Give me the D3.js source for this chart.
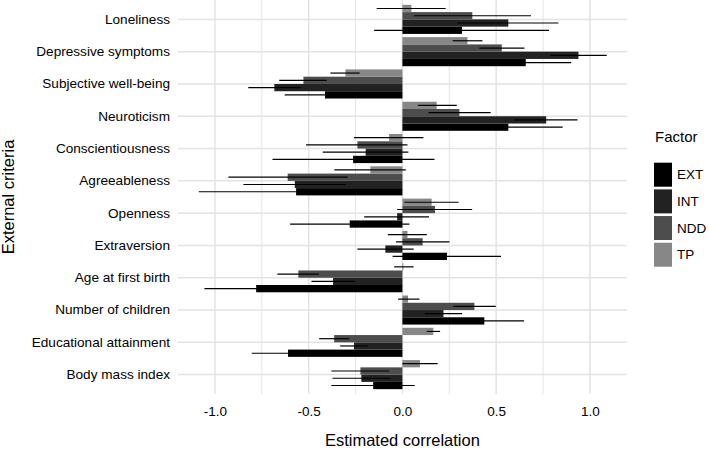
<!DOCTYPE html>
<html>
<head>
<meta charset="utf-8">
<script src="https://cdn.jsdelivr.net/npm/d3@7"></script>
<style>
  html, body { margin: 0; padding: 0; background: #fff; }
  svg { display: block; font-family: "Liberation Sans", Arial, Helvetica, sans-serif; }
</style>
</head>
<body>
<svg id="chart" width="709" height="449"></svg>
<script>
// ---- Data ----
const categories = ["Loneliness", "Depressive symptoms", "Subjective well-being", "Neuroticism",
  "Conscientiousness", "Agreeableness", "Openness", "Extraversion", "Age at first birth",
  "Number of children", "Educational attainment", "Body mass index"];
const factors = ["EXT", "INT", "NDD", "TP"];
const factorColors = ["#000000", "#222222", "#4d4d4d", "#878787"];

const estEXT = [0.318, 0.658, -0.413, 0.565, -0.263, -0.567, -0.281, 0.238, -0.780, 0.437, -0.610, -0.156];
const loEXT  = [-0.151, 0.416, -0.628, 0.275, -0.693, -1.086, -0.599, -0.052, -1.056, 0.225, -0.804, -0.379];
const hiEXT  = [0.782, 0.900, -0.198, 0.855, 0.171, -0.048, 0.037, 0.526, -0.504, 0.649, -0.416, 0.066];

const estINT = [0.565, 0.939, -0.683, 0.767, -0.196, -0.574, -0.028, -0.091, -0.370, 0.219, -0.258, -0.219];
const loINT  = [0.293, 0.788, -0.822, 0.598, -0.425, -0.848, -0.204, -0.240, -0.485, 0.121, -0.332, -0.373];
const hiINT  = [0.832, 1.090, -0.543, 0.934, 0.032, -0.302, 0.142, 0.060, -0.252, 0.318, -0.183, -0.064];

const estNDD = [0.373, 0.530, -0.528, 0.304, -0.240, -0.612, 0.174, 0.108, -0.555, 0.384, -0.364, -0.224];
const loNDD  = [0.062, 0.411, -0.657, 0.139, -0.514, -0.928, -0.028, -0.034, -0.667, 0.272, -0.444, -0.379];
const hiNDD  = [0.686, 0.651, -0.404, 0.471, 0.027, -0.292, 0.372, 0.251, -0.446, 0.498, -0.284, -0.071];

const estTP  = [0.048, 0.347, -0.304, 0.183, -0.071, -0.171, 0.156, 0.027, 0.005, 0.030, 0.165, 0.094];
const loTP   = [-0.137, 0.268, -0.384, 0.082, -0.258, -0.363, 0.011, -0.078, -0.044, -0.023, 0.130, 0.000];
const hiTP   = [0.231, 0.427, -0.228, 0.290, 0.112, 0.018, 0.300, 0.130, 0.060, 0.091, 0.201, 0.188];

const xTicks = [-1.0, -0.5, 0.0, 0.5, 1.0];
const xMinorTicks = [-0.75, -0.25, 0.25, 0.75];

const seriesData = {
  EXT: { est: estEXT, lo: loEXT, hi: hiEXT },
  INT: { est: estINT, lo: loINT, hi: hiINT },
  NDD: { est: estNDD, lo: loNDD, hi: hiNDD },
  TP:  { est: estTP,  lo: loTP,  hi: hiTP }
};

const rows = [];
categories.forEach((c, i) => {
  factors.forEach(f => {
    rows.push({ cat: c, factor: f, est: seriesData[f].est[i], lo: seriesData[f].lo[i], hi: seriesData[f].hi[i] });
  });
});

// ---- Layout ----
const svg = d3.select("#chart");
const panel = { left: 178, right: 627, top: 0, bottom: 394 };

const x = d3.scaleLinear().domain([-1.197, 1.198]).range([panel.left, panel.right]);
const y = d3.scaleBand().domain(categories).range([panel.top, panel.bottom])
  .paddingInner(0.1).paddingOuter(0.15);
const ySub = d3.scaleBand().domain(["TP", "NDD", "INT", "EXT"]).range([0, y.bandwidth()]);
const color = d3.scaleOrdinal().domain(factors).range(factorColors);

// ---- Grid ----
const grid = svg.append("g");
grid.selectAll("line.minor").data(xMinorTicks).enter().append("line")
  .attr("x1", d => x(d)).attr("x2", d => x(d))
  .attr("y1", panel.top).attr("y2", panel.bottom)
  .attr("stroke", "#e6e6e6").attr("stroke-width", 1.1);
grid.selectAll("line.majorx").data(xTicks).enter().append("line")
  .attr("x1", d => x(d)).attr("x2", d => x(d))
  .attr("y1", panel.top).attr("y2", panel.bottom)
  .attr("stroke", "#e3e3e3").attr("stroke-width", 1.5);
grid.selectAll("line.majory").data(categories).enter().append("line")
  .attr("x1", panel.left).attr("x2", panel.right)
  .attr("y1", d => y(d) + y.bandwidth() / 2).attr("y2", d => y(d) + y.bandwidth() / 2)
  .attr("stroke", "#e3e3e3").attr("stroke-width", 1.5);

// ---- Bars ----
svg.append("g").selectAll("rect").data(rows).enter().append("rect")
  .attr("x", d => Math.min(x(0), x(d.est)))
  .attr("width", d => Math.abs(x(d.est) - x(0)))
  .attr("y", d => y(d.cat) + ySub(d.factor))
  .attr("height", ySub.bandwidth())
  .attr("fill", d => color(d.factor));

// ---- Error bars ----
svg.append("g").selectAll("line").data(rows).enter().append("line")
  .attr("x1", d => x(d.lo)).attr("x2", d => x(d.hi))
  .attr("y1", d => y(d.cat) + ySub(d.factor) + ySub.bandwidth() / 2)
  .attr("y2", d => y(d.cat) + ySub(d.factor) + ySub.bandwidth() / 2)
  .attr("stroke", "#000").attr("stroke-width", 1.2);

// ---- Axes ----
const xAxis = svg.append("g").attr("transform", `translate(0,${panel.bottom})`)
  .call(d3.axisBottom(x).tickValues(xTicks).tickSize(0).tickPadding(12).tickFormat(d => d.toFixed(1)));
xAxis.select(".domain").remove();
xAxis.selectAll("text").attr("font-size", 13.5).attr("fill", "#000").attr("font-family", "Liberation Sans, Arial, sans-serif");

const yAxis = svg.append("g").attr("transform", `translate(${panel.left},0)`)
  .call(d3.axisLeft(y).tickSize(0).tickPadding(8));
yAxis.select(".domain").remove();
yAxis.selectAll("text").attr("font-size", 13.6).attr("fill", "#000").attr("font-family", "Liberation Sans, Arial, sans-serif");

// ---- Axis titles ----
svg.append("text").attr("x", x(0)).attr("y", 446).attr("text-anchor", "middle")
  .attr("font-size", 16.5).attr("fill", "#000").text("Estimated correlation");
svg.append("text").attr("transform", `translate(14,${(panel.top + panel.bottom) / 2}) rotate(-90)`)
  .attr("text-anchor", "middle").attr("font-size", 16.5).attr("fill", "#000").text("External criteria");

// ---- Legend ----
const legend = svg.append("g");
legend.append("text").attr("x", 655).attr("y", 142).attr("font-size", 15).attr("fill", "#000").text("Factor");
const keyH = 24, keyStep = 26.67, keyTop = 162.7;
factors.forEach((f, i) => {
  legend.append("rect").attr("x", 654).attr("y", keyTop + i * keyStep)
    .attr("width", 18).attr("height", keyH).attr("fill", color(f));
  legend.append("text").attr("x", 677).attr("y", keyTop + i * keyStep + keyH / 2)
    .attr("dy", "0.35em").attr("font-size", 13.5).attr("fill", "#000").text(f);
});
</script>
</body>
</html>
